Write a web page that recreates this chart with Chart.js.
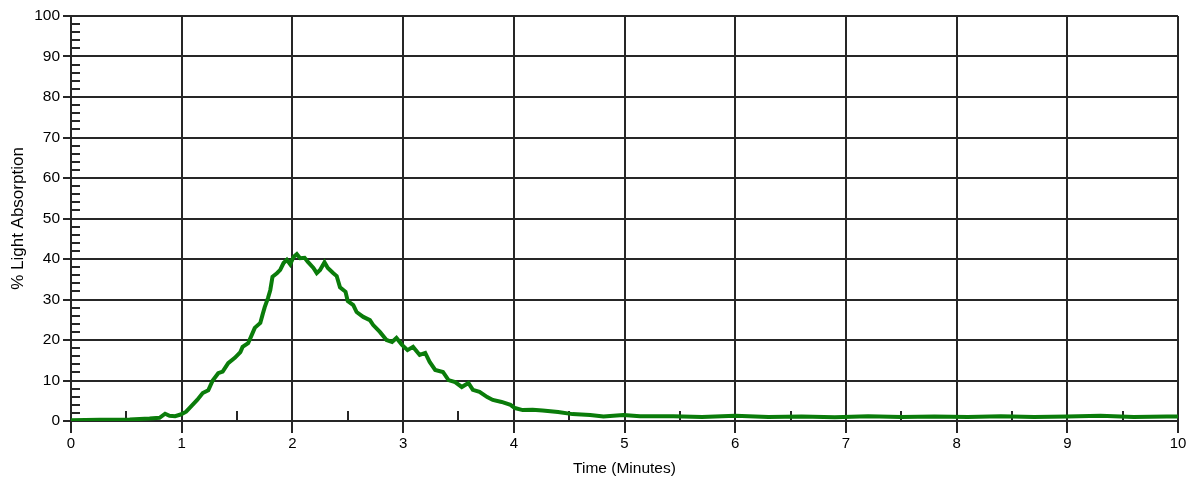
<!DOCTYPE html>
<html>
<head>
<meta charset="utf-8">
<title>% Light Absorption</title>
<script src="https://cdn.jsdelivr.net/npm/chart.js@4.4.0/dist/chart.umd.min.js"></script>
<style>
	html,body{margin:0;padding:0;background:#fff;}
	#contenedor{width:1193px;height:483px;}
</style>
</head>
<body>
<div id="contenedor"><canvas id="grafica"></canvas></div>
<script>
var TIEMPOS=[0,0.26,0.53,0.71,0.80,0.85,0.89,0.94,0.99,1.04,1.07,1.14,1.19,1.24,1.28,1.33,1.37,1.42,1.48,1.53,1.55,1.60,1.64,1.66,1.71,1.73,1.75,1.78,1.80,1.82,1.86,1.89,1.92,1.95,1.98,2.01,2.04,2.07,2.11,2.14,2.19,2.22,2.25,2.29,2.32,2.37,2.40,2.43,2.48,2.50,2.55,2.58,2.64,2.70,2.73,2.79,2.85,2.90,2.94,2.99,3.04,3.09,3.15,3.20,3.24,3.29,3.36,3.41,3.47,3.53,3.59,3.63,3.69,3.76,3.81,3.89,3.97,4.01,4.08,4.17,4.26,4.40,4.53,4.69,4.81,4.99,5.14,5.44,5.7,6.0,6.3,6.6,6.9,7.2,7.5,7.8,8.1,8.4,8.7,9.0,9.3,9.6,9.9,10];
var ABSORCION=[0.2,0.3,0.4,0.6,0.8,1.8,1.3,1.2,1.6,2.3,3.2,5.2,6.9,7.6,10,11.8,12.2,14.3,15.6,17.0,18.3,19.2,21.7,23,24.2,26.2,28.1,30.4,32.3,35.6,36.5,37.3,39,39.8,38.7,40.5,41.2,40.2,40.3,39.3,37.8,36.5,37.3,39.2,37.8,36.5,35.8,33,31.9,29.6,28.6,26.9,25.7,24.9,23.7,22,20,19.5,20.5,18.8,17.5,18.3,16.3,16.8,14.6,12.6,12.1,10.1,9.6,8.4,9.4,7.7,7.2,5.9,5.2,4.7,4.0,3.2,2.7,2.8,2.6,2.2,1.7,1.5,1.1,1.5,1.2,1.2,1.0,1.3,1.0,1.1,0.9,1.2,1.0,1.1,1.0,1.2,1.0,1.1,1.3,1.0,1.1,1.1];
var TICKS_X=[0,1,2,3,4,5,6,7,8,9,10];
var TICKS_Y=[0,10,20,30,40,50,60,70,80,90,100];
var MENORES_X=[0.5,1.5,2.5,3.5,4.5,5.5,6.5,7.5,8.5,9.5];
var MENORES_Y=[2,4,6,8,12,14,16,18,22,24,26,28,32,34,36,38,42,44,46,48,52,54,56,58,62,64,66,68,72,74,76,78,82,84,86,88,92,94,96,98];

var COLOR_REJILLA='#262626';
var FUENTE='Arial, "Liberation Sans", sans-serif';

var puntos=new Array();
for(var i=0;i<TIEMPOS.length;i++){
	puntos.push({x:TIEMPOS[i],y:ABSORCION[i]});
}

// marcas menores hacia dentro del area
var marcasMenores={
	id:'marcasMenores',
	beforeDatasetsDraw:function(chart){
		var ctx=chart.ctx;
		var area=chart.chartArea;
		ctx.save();
		ctx.strokeStyle=COLOR_REJILLA;
		ctx.lineWidth=2;
		ctx.beginPath();
		for(var i=0;i<MENORES_Y.length;i++){
			var py=Math.round(chart.scales.y.getPixelForValue(MENORES_Y[i]));
			ctx.moveTo(area.left,py);
			ctx.lineTo(area.left+9,py);
		}
		for(var j=0;j<MENORES_X.length;j++){
			var px=Math.round(chart.scales.x.getPixelForValue(MENORES_X[j]));
			ctx.moveTo(px,area.bottom);
			ctx.lineTo(px,area.bottom-10);
		}
		ctx.stroke();
		ctx.restore();
	}
};

var config={
	type:'line',
	data:{
		datasets:[{
			data:puntos,
			borderColor:'#0a7c0a',
			borderWidth:4,
			pointRadius:0,
			tension:0,
			fill:false
		}]
	},
	options:{
		responsive:false,
		animation:false,
		layout:{padding:{left:0,right:15,top:16,bottom:0}},
		plugins:{
			legend:{display:false},
			tooltip:{enabled:false}
		},
		scales:{
			x:{
				type:'linear',
				min:0,
				max:10,
				afterBuildTicks:function(scale){
					scale.ticks=TICKS_X.map(function(v){return {value:v};});
				},
				afterFit:function(scale){scale.height=62;},
				ticks:{color:'#000',font:{family:FUENTE,size:15},padding:2,maxRotation:0},
				grid:{color:COLOR_REJILLA,lineWidth:2,tickLength:12,drawOnChartArea:true},
				border:{display:true,color:COLOR_REJILLA,width:2},
				title:{display:true,text:'Time (Minutes)',color:'#000',font:{family:FUENTE,size:15.5},padding:{top:0,bottom:5}}
			},
			y:{
				type:'linear',
				min:0,
				max:100,
				afterBuildTicks:function(scale){
					scale.ticks=TICKS_Y.map(function(v){return {value:v};});
				},
				afterFit:function(scale){scale.width=71;},
				ticks:{color:'#000',font:{family:FUENTE,size:15.5},padding:3},
				grid:{color:COLOR_REJILLA,lineWidth:2,tickLength:8},
				border:{display:true,color:COLOR_REJILLA,width:2},
				title:{display:true,text:'% Light Absorption',color:'#000',font:{family:FUENTE,size:17},padding:{top:8,bottom:0}}
			}
		}
	},
	plugins:[marcasMenores]
};

var canvas=document.getElementById('grafica');
canvas.width=1193;
canvas.height=483;
new Chart(canvas.getContext('2d'),config);
</script>
</body>
</html>
